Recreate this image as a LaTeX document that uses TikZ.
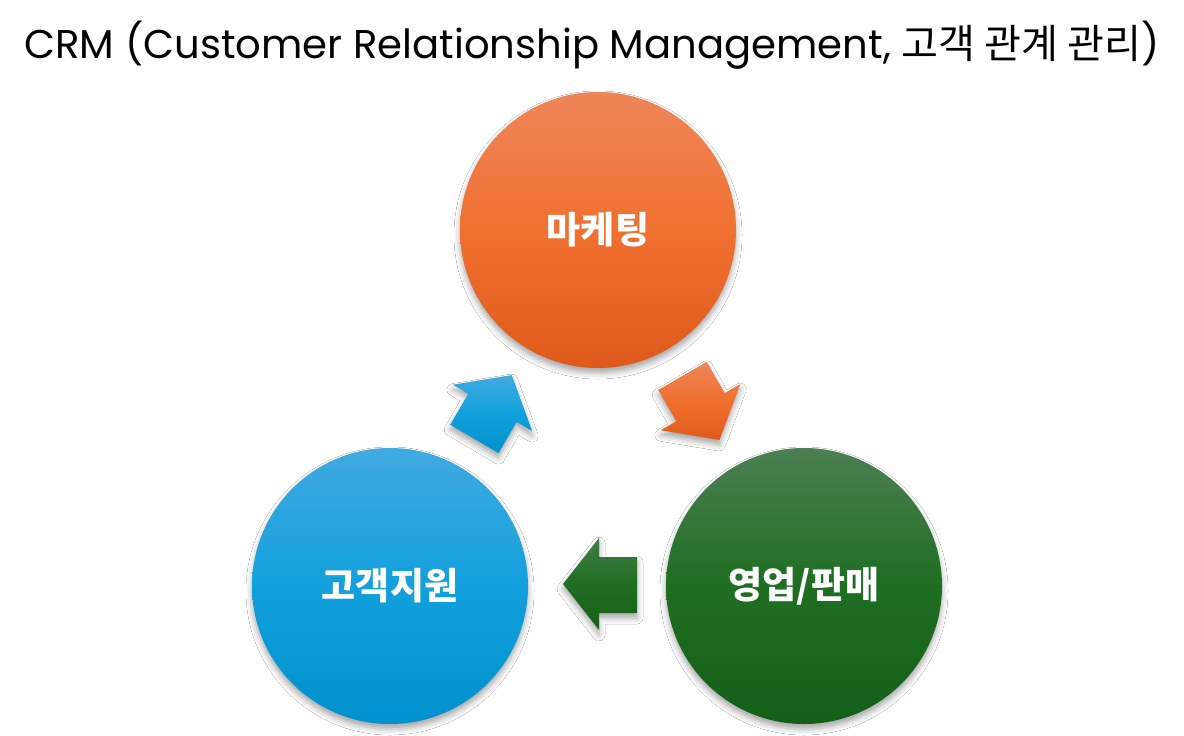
\documentclass[tikz,border=0pt]{standalone}
\usepackage{fontspec}
\setmainfont{Poppins}
\newfontfamily\kr{Noto Sans CJK KR}
\usetikzlibrary{shadows.blur}
\definecolor{oTop}{HTML}{EE8658}
\definecolor{oMid}{HTML}{F07030}
\definecolor{oBot}{HTML}{DE5A1C}
\definecolor{bTop}{HTML}{41AAE0}
\definecolor{bMid}{HTML}{12A0DC}
\definecolor{bBot}{HTML}{0092CE}
\definecolor{gTop}{HTML}{4C7F52}
\definecolor{gMid}{HTML}{1E6E22}
\definecolor{gBot}{HTML}{155F18}
\tikzset{
  softshadow/.style={blur shadow={shadow xshift=0pt, shadow yshift=-5pt, shadow blur radius=6pt, shadow opacity=35}},
  circ/.style={circle, minimum size=276pt, inner sep=0pt, text=white,
    font=\kr\bfseries\fontsize{37}{42}\selectfont, softshadow},
  arrowshape/.style={softshadow},
}
\begin{document}
\begin{tikzpicture}[x=1pt,y=-1pt]
\useasboundingbox[fill=white] (0,0) rectangle (1184,736);
% title
\node[anchor=base, inner sep=0pt] (title) at (592,58)
  {\resizebox{1135pt}{!}{\fontsize{40}{48}\selectfont CRM (Customer Relationship Management, {\kr 고객 관계 관리})}};
% circles
\node[circ, top color=oTop, bottom color=oBot, middle color=oMid] (mkt) at (598,230) {마케팅};
\node[circ, top color=bTop, bottom color=bBot, middle color=bMid] (cs) at (390,586) {고객지원};
\node[circ, top color=gTop, bottom color=gBot, middle color=gMid] (sales) at (804,586) {영업/판매};
% arrows
\path[arrowshape, top color=oTop, bottom color=oBot, middle color=oMid]
  (706.7,361.9) -- (724.7,393.1) -- (740.3,384.1) -- (719.5,440.0) -- (660.7,430.2) -- (676.3,421.2) -- (658.2,390.0) -- cycle;
\path[arrowshape, top color=bTop, bottom color=bBot, middle color=bMid]
  (450.2,424.8) -- (468.3,393.7) -- (452.8,384.7) -- (511.7,375.1) -- (532.2,431.1) -- (516.7,422.0) -- (498.5,453.1) -- cycle;
\path[arrowshape, top color=gTop!80!gMid, bottom color=gBot, middle color=gMid]
  (637,557) -- (599,557) -- (599,538) -- (563,584) -- (599,630) -- (599,613) -- (637,613) -- cycle;
\end{tikzpicture}
\end{document}
